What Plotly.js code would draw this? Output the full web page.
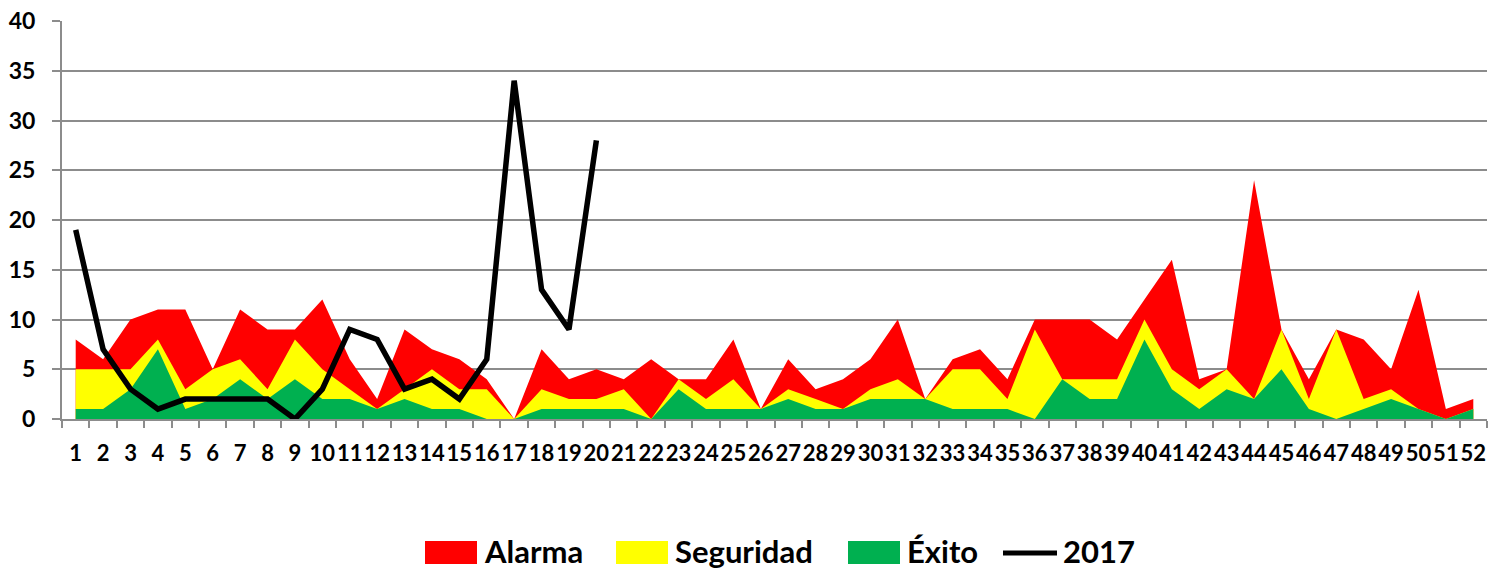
<!DOCTYPE html>
<html>
<head>
<meta charset="utf-8">
<script src="https://cdn.plot.ly/plotly-3.0.1.min.js"></script>
<style>
  html, body { margin: 0; padding: 0; background: #fff; }
  #chart { width: 1488px; height: 571px; }
</style>
</head>
<body>
<div id="chart"></div>
<script>
// ---- data ----
const weeks = Array.from({length: 52}, (_, i) => String(i + 1));
const alarma =    [8,6,10,11,11,5,11,9,9,12,6,2,9,7,6,4,0,7,4,5,4,6,4,4,8,1,6,3,4,6,10,2,6,7,4,10,10,10,8,12,16,4,5,24,9,4,9,8,5,13,1,2];
const seguridad = [5,5,5,8,3,5,6,3,8,5,3,1,3,5,3,3,0,3,2,2,3,0,4,2,4,1,3,2,1,3,4,2,5,5,2,9,4,4,4,10,5,3,5,2,9,2,9,2,3,1,0,1];
const exito =     [1,1,3,7,1,2,4,2,4,2,2,1,2,1,1,0,0,1,1,1,1,0,3,1,1,1,2,1,1,2,2,2,1,1,1,0,4,2,2,8,3,1,3,2,5,1,0,1,2,1,0,1];
const weeks2017 = weeks.slice(0, 20);
const casos2017 = [19,7,3,1,2,2,2,2,0,3,9,8,3,4,2,6,34,13,9,28];

const seriesNames = ['Alarma', 'Seguridad', 'Éxito', '2017'];
const seriesColors = ['#FF0000', '#FFFF00', '#00B050', '#000000'];

// ---- layout constants ----
const W = 1488, H = 571;
const M = {l: 62, r: 1, t: 21, b: 152};
const FONT = 'Lato, "Open Sans", sans-serif';

const traces = [
  {x: weeks, y: alarma, name: seriesNames[0], type: 'scatter', mode: 'none',
   fill: 'tozeroy', fillcolor: seriesColors[0], hoverinfo: 'x+y+name'},
  {x: weeks, y: seguridad, name: seriesNames[1], type: 'scatter', mode: 'none',
   fill: 'tozeroy', fillcolor: seriesColors[1], hoverinfo: 'x+y+name'},
  {x: weeks, y: exito, name: seriesNames[2], type: 'scatter', mode: 'none',
   fill: 'tozeroy', fillcolor: seriesColors[2], hoverinfo: 'x+y+name'},
  {x: weeks2017, y: casos2017, name: seriesNames[3], type: 'scatter', mode: 'lines',
   line: {color: seriesColors[3], width: 5.5}}
];

// custom legend (big swatches like the reference)
const plotW = W - M.l - M.r, plotH = H - M.t - M.b;
const px2x = p => (p - M.l) / plotW;
const py2y = p => (H - M.b - p) / plotH;
const legendY = 552;
const legendItems = [
  {sw: [425, 477], tx: 482, kind: 'box'},
  {sw: [616, 668], tx: 673, kind: 'box'},
  {sw: [848, 900], tx: 905, kind: 'box'},
  {sw: [1003, 1057], tx: 1061, kind: 'line'}
];
const shapes = [], annotations = [];
legendItems.forEach((it, i) => {
  if (it.kind === 'box') {
    shapes.push({type: 'rect', xref: 'paper', yref: 'paper',
      x0: px2x(it.sw[0]), x1: px2x(it.sw[1]), y0: py2y(legendY + 12), y1: py2y(legendY - 11),
      fillcolor: seriesColors[i], line: {width: 0}});
  } else {
    shapes.push({type: 'line', xref: 'paper', yref: 'paper',
      x0: px2x(it.sw[0]), x1: px2x(it.sw[1]), y0: py2y(legendY + 1), y1: py2y(legendY + 1),
      line: {color: seriesColors[i], width: 5}});
  }
  annotations.push({xref: 'paper', yref: 'paper', x: px2x(it.tx), y: py2y(legendY - 1),
    xanchor: 'left', yanchor: 'middle', showarrow: false, text: seriesNames[i],
    font: {family: FONT, size: 31, color: '#000', weight: 'bold'}});
});

const layout = {
  width: W, height: H,
  margin: M,
  paper_bgcolor: '#fff', plot_bgcolor: '#fff',
  showlegend: false,
  font: {family: FONT, color: '#000'},
  xaxis: {
    type: 'category', categoryorder: 'array', categoryarray: weeks,
    range: [-0.5, 51.5], fixedrange: true,
    tickmode: 'array', tickvals: weeks, ticktext: weeks,
    tickson: 'boundaries', ticks: 'outside', ticklen: 7, tickwidth: 2, tickcolor: '#8c8c8c',
    tickangle: 0, ticklabelstandoff: 14,
    tickfont: {family: FONT, size: 22, color: '#000', weight: 'bold'},
    showline: true, linecolor: '#8c8c8c', linewidth: 2,
    showgrid: false, zeroline: false
  },
  yaxis: {
    range: [0, 40], dtick: 5, tick0: 0, fixedrange: true,
    ticks: 'outside', ticklen: 8, tickwidth: 2, tickcolor: '#8c8c8c',
    ticklabelstandoff: 12,
    tickfont: {family: FONT, size: 23, color: '#000', weight: 'bold'},
    showline: true, linecolor: '#8c8c8c', linewidth: 2,
    showgrid: true, gridcolor: '#8c8c8c', gridwidth: 2,
    zeroline: false
  },
  shapes: shapes,
  annotations: annotations
};

Plotly.newPlot('chart', traces, layout, {displayModeBar: false, staticPlot: true});
</script>
</body>
</html>
